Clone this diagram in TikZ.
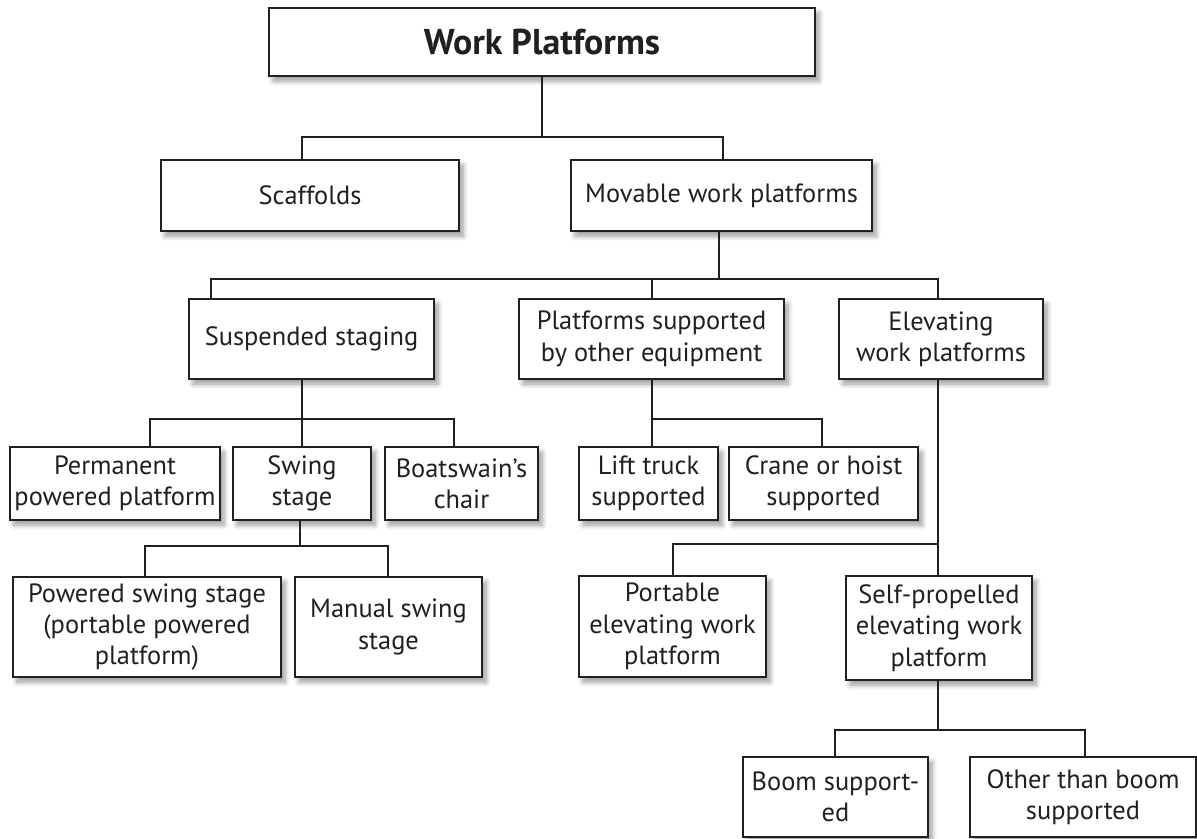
\documentclass[tikz,border=0pt]{standalone}
\usepackage{fontspec}
\setmainfont{PT Sans}
\usetikzlibrary{shadows.blur}
\definecolor{ink}{HTML}{231F20}
\tikzset{
  box/.style={draw=ink, line width=2bp, fill=white, align=center, inner sep=1bp,
    font=\fontsize{26.5}{31.5}\selectfont, text=ink,
    blur shadow={shadow xshift=4bp, shadow yshift=-5bp, shadow blur steps=8, shadow opacity=40, shadow blur radius=5bp}},
  link/.style={draw=ink, line width=2bp}
}
\begin{document}
\begin{tikzpicture}[x=1bp, y=-1bp]
\useasboundingbox (0,0) rectangle (1197,839);
% boxes
\node[box, minimum width=546bp, minimum height=68bp, font=\fontsize{36}{42}\selectfont\bfseries] (title) at (542,42) {Work Platforms};
\node[box, minimum width=298bp, minimum height=71bp] (scaff) at (310,195.5) {Scaffolds};
\node[box, minimum width=301bp, minimum height=71bp] (movable) at (721.5,195.5) {Movable work platforms};
\node[box, minimum width=245bp, minimum height=80bp] (susp) at (311.5,339) {Suspended staging};
\node[box, minimum width=265bp, minimum height=80bp] (plat) at (651.5,339) {Platforms supported\\by other equipment};
\node[box, minimum width=204bp, minimum height=80bp] (elev) at (941,339) {Elevating\\work platforms};
\node[box, minimum width=210bp, minimum height=73bp] (perm) at (115,483.5) {Permanent\\powered platform};
\node[box, minimum width=138bp, minimum height=73bp] (swing) at (302,483.5) {Swing\\stage};
\node[box, minimum width=153bp, minimum height=73bp] (boat) at (461.5,483.5) {Boatswain’s\\chair};
\node[box, minimum width=268bp, minimum height=100bp] (powered) at (147,627) {Powered swing stage\\(portable powered\\platform)};
\node[box, minimum width=187bp, minimum height=100bp] (manual) at (388.5,627) {Manual swing\\stage};
\node[box, minimum width=139bp, minimum height=73bp] (lift) at (648.5,483.5) {Lift truck\\supported};
\node[box, minimum width=189bp, minimum height=73bp] (crane) at (823.5,483.5) {Crane or hoist\\supported};
\node[box, minimum width=187bp, minimum height=101bp] (portable) at (672.5,626.5) {Portable\\elevating work\\platform};
\node[box, minimum width=186bp, minimum height=104bp] (self) at (939,628) {Self-propelled\\elevating work\\platform};
\node[box, minimum width=185bp, minimum height=80bp] (boom) at (835.5,797) {Boom support-\\ed};
\node[box, minimum width=226bp, minimum height=80bp] (other) at (1083,797) {Other than boom\\supported};
% bus junctions
\coordinate (j0) at (542,137);
\coordinate (j0a) at (302,137);
\coordinate (j0b) at (723,137);
\coordinate (j1) at (719,279);
\coordinate (j1a) at (211,279);
\coordinate (j1b) at (652,279);
\coordinate (j1c) at (938,279);
\coordinate (j2) at (302,419);
\coordinate (j2a) at (150,419);
\coordinate (j2b) at (454,419);
\coordinate (j3) at (300,546);
\coordinate (j3a) at (145,546);
\coordinate (j3b) at (388,546);
\coordinate (j4) at (652,419);
\coordinate (j4b) at (822,419);
\coordinate (j5) at (938,544);
\coordinate (j5a) at (673,544);
\coordinate (j6) at (938,730);
\coordinate (j6a) at (835,730);
\coordinate (j6b) at (1085,730);
% connectors
\draw[link] (title.south) -- (j0);
\draw[link] (j0a |- scaff.north) -- (j0a) -- (j0b) -- (j0b |- movable.north);
\draw[link] (j1 |- movable.south) -- (j1);
\draw[link] (j1a |- susp.north) -- (j1a) -- (j1c) -- (j1c |- elev.north);
\draw[link] (j1b) -- (j1b |- plat.north);
\draw[link] (j2 |- susp.south) -- (j2);
\draw[link] (j2a |- perm.north) -- (j2a) -- (j2b) -- (j2b |- boat.north);
\draw[link] (j2) -- (j2 |- swing.north);
\draw[link] (j3 |- swing.south) -- (j3);
\draw[link] (j3a |- powered.north) -- (j3a) -- (j3b) -- (j3b |- manual.north);
\draw[link] (j4 |- plat.south) -- (j4) -- (j4 |- lift.north);
\draw[link] (j4) -- (j4b) -- (j4b |- crane.north);
\draw[link] (j5 |- elev.south) -- (j5 |- self.north);
\draw[link] (j5) -- (j5a) -- (j5a |- portable.north);
\draw[link] (j6 |- self.south) -- (j6);
\draw[link] (j6a |- boom.north) -- (j6a) -- (j6b) -- (j6b |- other.north);
\end{tikzpicture}
\end{document}
